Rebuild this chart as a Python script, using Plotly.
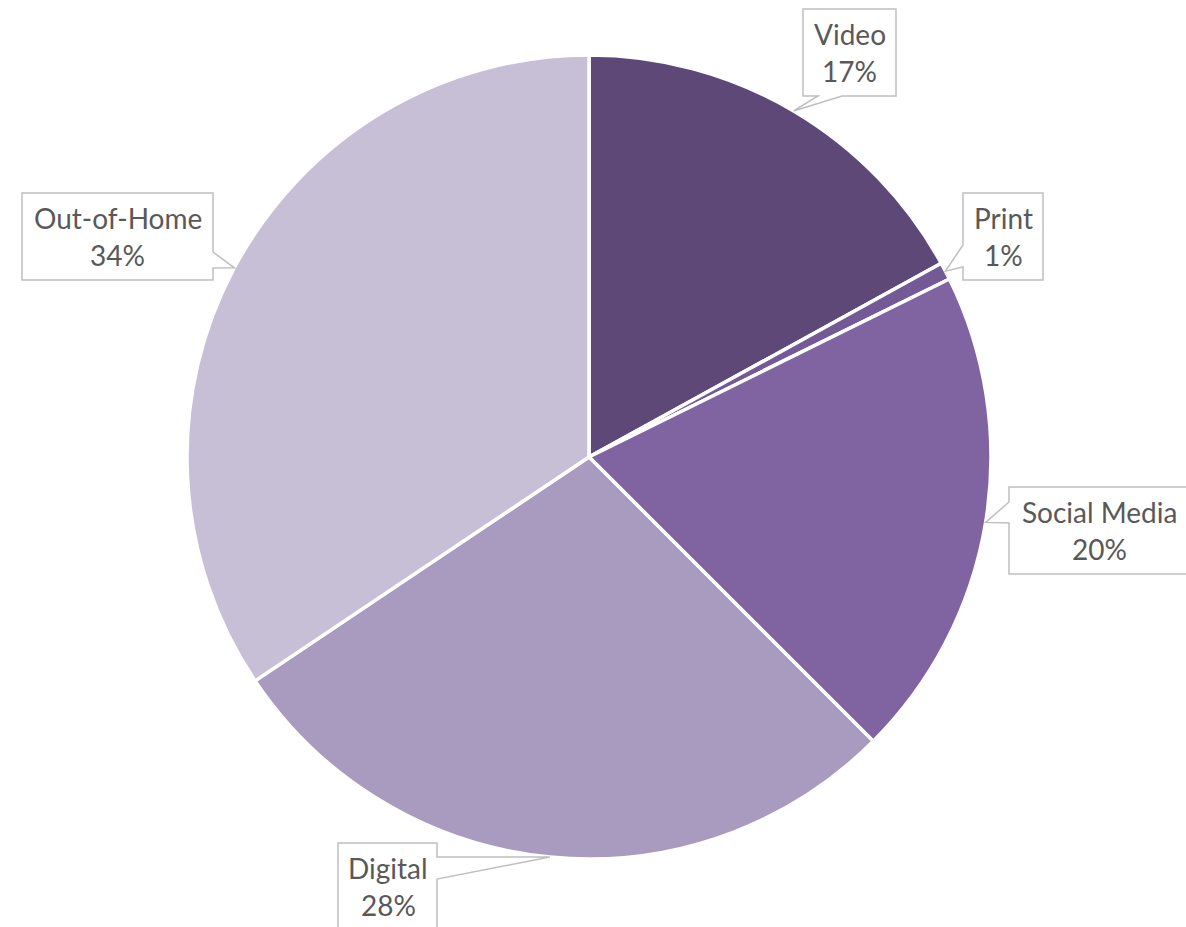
import plotly.graph_objects as go
import math

# ---- data ----
categories = ["Video", "Print", "Social Media", "Digital", "Out-of-Home"]
shares = [17.0, 0.7, 19.8, 28.1, 34.4]
colors = ["#5E4878", "#735995", "#8064A2", "#A99ABF", "#C7BFD6"]

W, H = 1186, 927
CX, CY, R = 589, 457, 402  # pie centre / radius in pixels (layout)

# callout boxes (layout, pixels): x0, y0, x1, y1, side of pointer, base start, base end
boxes = {
    "Video":        (803, 9, 896, 96, "bottom", 818, 842),
    "Print":        (963, 193, 1043, 280, "left", 245, 267),
    "Social Media": (1009, 487, 1200, 574, "left", 502, 523),
    "Digital":      (338, 843, 437, 935, "right", 857, 879),
    "Out-of-Home":  (22, 193, 213, 280, "right", 252, 268),
}
text_centres = {
    "Video": (849.5, 52.5),
    "Print": (1003, 236.5),
    "Social Media": (1099, 530.5),
    "Digital": (388, 886.5),
    "Out-of-Home": (117.5, 236.5),
}

def px(x):
    return x / W

def py(y):
    return 1 - y / H

fig = go.Figure(go.Pie(
    labels=categories,
    values=shares,
    sort=False,
    direction="clockwise",
    rotation=0,
    marker=dict(colors=colors, line=dict(color="white", width=3.5)),
    textinfo="none",
    hoverinfo="label+percent",
    showlegend=False,
    domain=dict(x=[px(CX - R), px(CX + R)], y=[py(CY + R), py(CY - R)]),
))

total = sum(shares)
shapes = []
annotations = []
cum = 0.0
font = dict(family="Lato", size=28, color="#595959")
for cat, v in zip(categories, shares):
    mid = (cum + v / 2) / total * 2 * math.pi
    cum += v
    tx = CX + R * math.sin(mid)
    ty = CY - R * math.cos(mid)
    x0, y0, x1, y1, side, b0, b1 = boxes[cat]
    pts = [(x0, y0)]
    if side == "bottom":
        pts += [(x1, y0), (x1, y1), (b1, y1), (tx, ty), (b0, y1), (x0, y1)]
    elif side == "left":
        pts += [(x1, y0), (x1, y1), (x0, y1), (x0, b1), (tx, ty), (x0, b0)]
    elif side == "right":
        pts += [(x1, y0), (x1, b0), (tx, ty), (x1, b1), (x1, y1), (x0, y1)]
    path = "M " + " L ".join(f"{px(a):.5f},{py(b):.5f}" for a, b in pts) + " Z"
    shapes.append(dict(type="path", xref="paper", yref="paper", path=path,
                       fillcolor="white", line=dict(color="#BFBFBF", width=1.5)))
    cxb, cyb = text_centres[cat]
    for txt, dy in ((cat, -18.5), (f"{round(v / total * 100)}%", 18.5)):
        annotations.append(dict(
            x=px(cxb), y=py(cyb + dy), xref="paper", yref="paper",
            xanchor="center", yanchor="middle", showarrow=False,
            text=txt, font=font, align="center",
        ))

fig.update_layout(
    width=W, height=H,
    margin=dict(l=0, r=0, t=0, b=0),
    paper_bgcolor="white",
    plot_bgcolor="white",
    shapes=shapes,
    annotations=annotations,
)

fig.write_html("out.html")
